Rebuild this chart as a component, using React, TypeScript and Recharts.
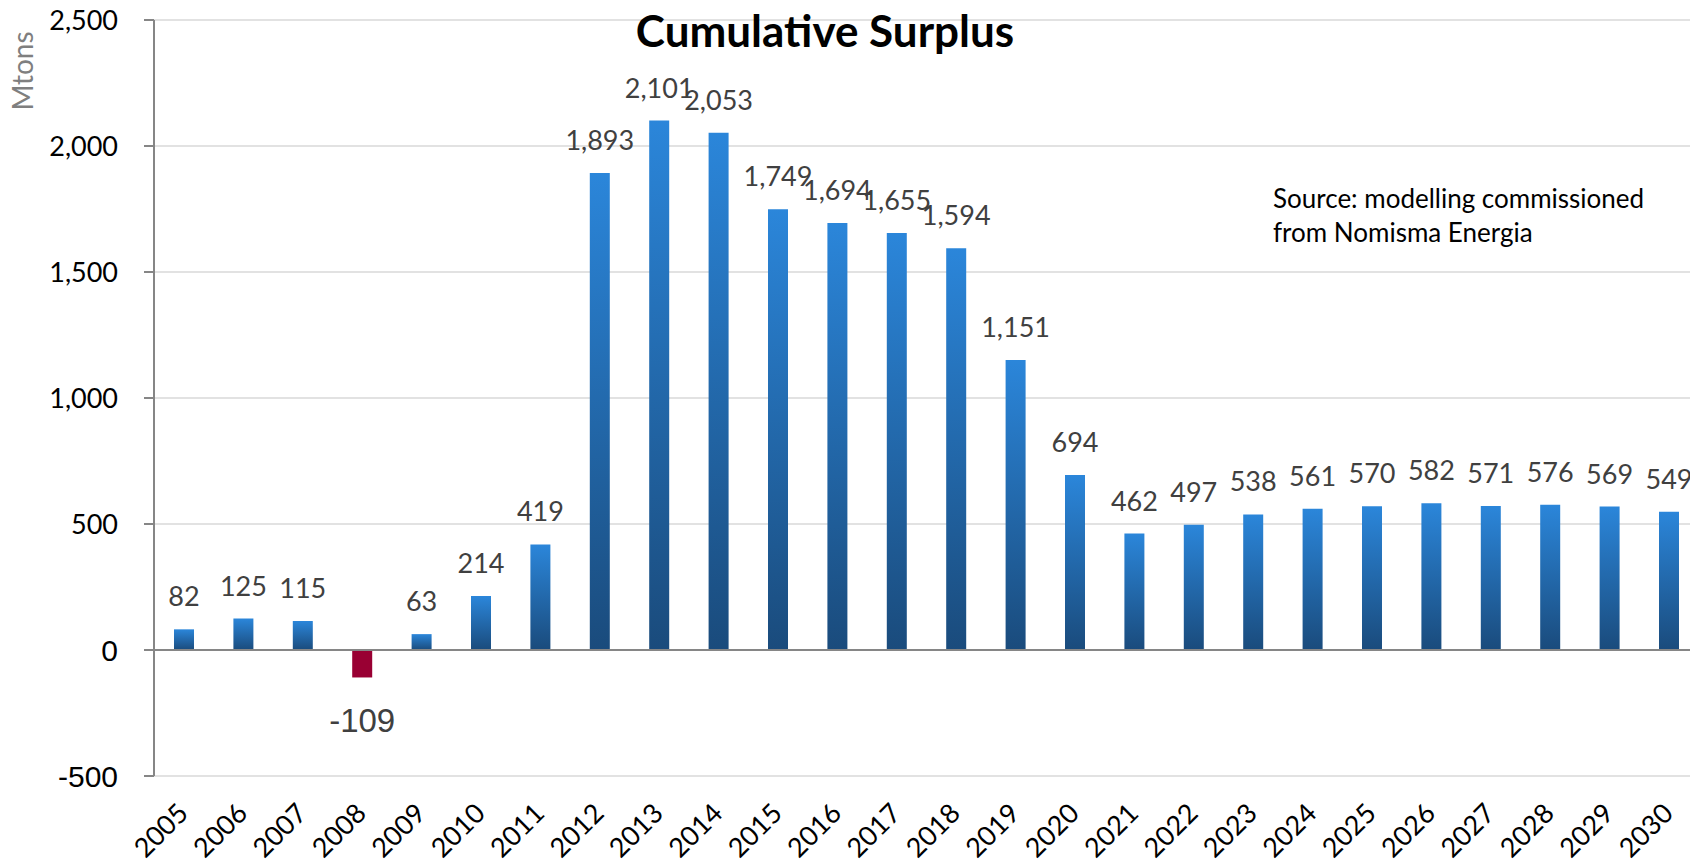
import { BarChart, Bar, XAxis, YAxis, CartesianGrid, ReferenceLine, LabelList, Cell } from 'recharts';

const years = [
  '2005', '2006', '2007', '2008', '2009', '2010', '2011', '2012', '2013', '2014', '2015', '2016', '2017',
  '2018', '2019', '2020', '2021', '2022', '2023', '2024', '2025', '2026', '2027', '2028', '2029', '2030',
];
const surplus = [
  82, 125, 115, -109, 63, 214, 419, 1893, 2101, 2053, 1749, 1694, 1655,
  1594, 1151, 694, 462, 497, 538, 561, 570, 582, 571, 576, 569, 549,
];
const yTicks = [-500, 0, 500, 1000, 1500, 2000, 2500];
const sourceLines = ['Source: modelling commissioned', 'from Nomisma Energia'];

const FONT = 'Lato, "Open Sans", sans-serif';
const ARIAL = '"Liberation Sans", Arial, sans-serif';

const fmt = (v: number) => String(v).replace(/\B(?=(\d{3})+(?!\d))/g, ',');

const chartData = years.map((year, i) => ({ year, value: surplus[i] }));

function YearTick(props: any) {
  const { x, y, payload } = props;
  return (
    <g transform={`translate(${x + 6},${y + 39})`}>
      <text transform="rotate(-45)" textAnchor="end" fontSize={27} fontFamily={FONT} fill="#000">
        {payload.value}
      </text>
    </g>
  );
}

// the source file mixes fonts: zero and negative ticks come out in Arial
function ValueTick(props: any) {
  const { x, y, payload } = props;
  const low = payload.value <= 0;
  return (
    <text
      x={x}
      y={y}
      dy="0.36em"
      textAnchor="end"
      fontSize={low ? 30 : 27}
      fontFamily={low ? ARIAL : FONT}
      fill="#000"
    >
      {fmt(payload.value)}
    </text>
  );
}

function ValueLabel(props: any) {
  const { x, y, width, height, value } = props;
  const top = Math.min(y, y + height);
  const bottom = Math.max(y, y + height);
  const cx = x + width / 2;
  const neg = value < 0;
  return (
    <text
      x={cx}
      y={neg ? bottom + 55 : top - 23}
      textAnchor="middle"
      fontSize={neg ? 33 : 27}
      fontFamily={neg ? ARIAL : FONT}
      fill="#404040"
    >
      {fmt(value)}
    </text>
  );
}

export default function App() {
  return (
    <div style={{ position: 'fixed', left: 0, top: 0, width: 1690, height: 864, overflow: 'hidden', background: '#fff' }}>
      <BarChart width={1700} height={864} data={chartData} margin={{ top: 20, right: 1.6, left: 0, bottom: 0 }}>
        <defs>
          <linearGradient id="barGrad" x1="0" y1="0" x2="0" y2="1">
            <stop offset="0%" stopColor="#2b86da" />
            <stop offset="100%" stopColor="#1a4b7c" />
          </linearGradient>
        </defs>
        <CartesianGrid vertical={false} stroke="#d9d9d9" strokeWidth={1.5} />
        <XAxis
          dataKey="year"
          interval={0}
          height={88}
          axisLine={false}
          tickLine={false}
          tickSize={0}
          tickMargin={0}
          tick={<YearTick />}
        />
        <YAxis
          width={154}
          domain={[-500, 2500]}
          ticks={yTicks}
          tickSize={10}
          tickMargin={26}
          axisLine={{ stroke: '#868686', strokeWidth: 2 }}
          tickLine={{ stroke: '#868686', strokeWidth: 2 }}
          tick={<ValueTick />}
        />
        <ReferenceLine y={0} stroke="#868686" strokeWidth={2} />
        <Bar dataKey="value" barSize={20} isAnimationActive={false}>
          {chartData.map((d) => (
            <Cell key={d.year} fill={d.value < 0 ? '#990033' : 'url(#barGrad)'} />
          ))}
          <LabelList dataKey="value" content={<ValueLabel />} />
        </Bar>
        <text x={825} y={47} textAnchor="middle" fontSize={44} fontWeight="bold" fontFamily={FONT} fill="#000">
          Cumulative Surplus
        </text>
        <text
          transform="translate(33,71) rotate(-90)"
          textAnchor="middle"
          fontSize={28}
          fontFamily={FONT}
          fill="#7f7f7f"
        >
          Mtons
        </text>
        {sourceLines.map((line, i) => (
          <text key={line} x={1273} y={208 + i * 34} fontSize={26} fontFamily={FONT} fill="#000">
            {line}
          </text>
        ))}
      </BarChart>
    </div>
  );
}
